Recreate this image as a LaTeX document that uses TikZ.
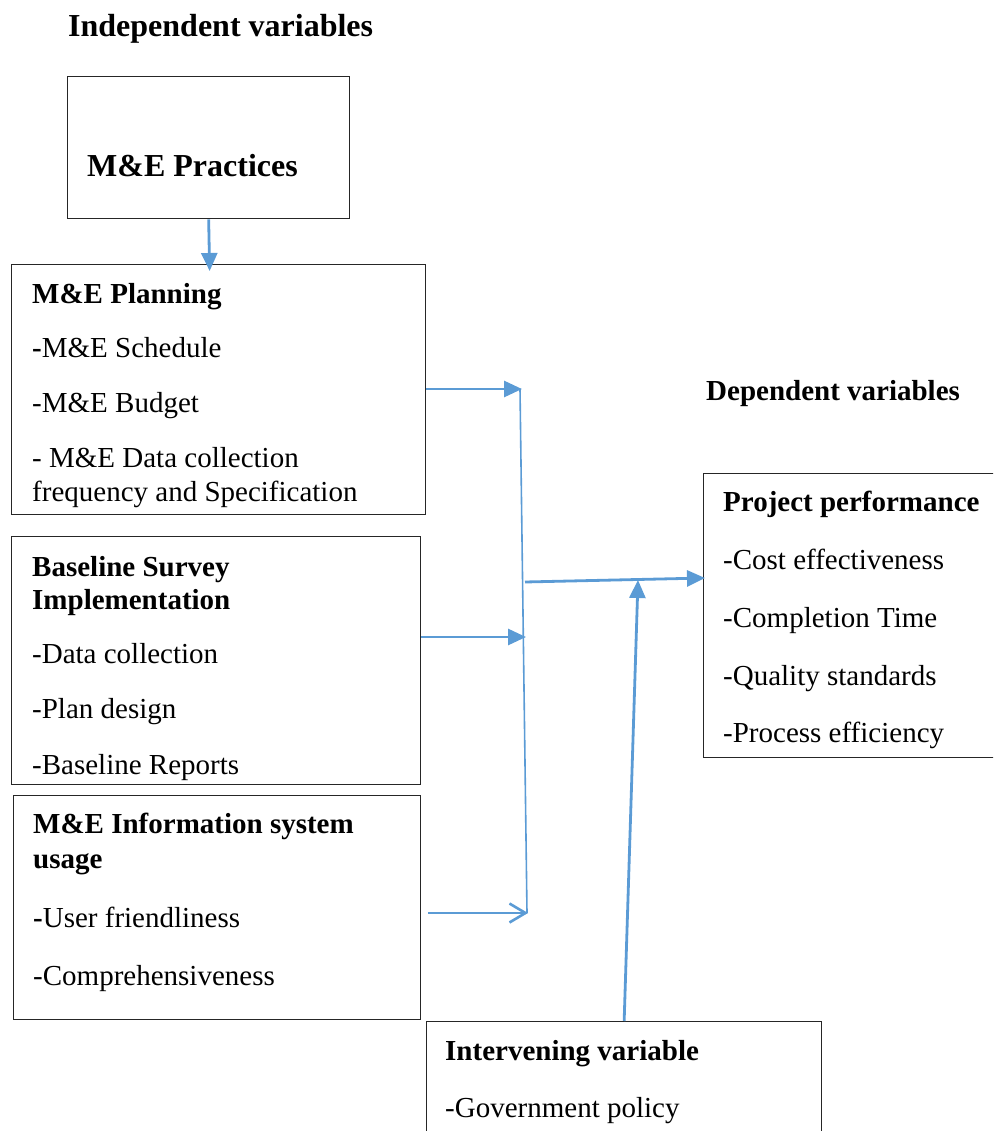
\documentclass[tikz,border=0pt]{standalone}
\usepackage{fontspec}
\setmainfont{Liberation Serif}
\usetikzlibrary{arrows.meta,calc}
\definecolor{linkblue}{RGB}{91,155,213}
\begin{document}
\begin{tikzpicture}[x=1pt,y=-1pt,
  box/.style={draw=black!85, line width=1.3pt, anchor=north west, inner sep=0pt},
  txt/.style={anchor=base west, inner sep=0pt, font=\fontsize{29}{34}\selectfont},
  head/.style={anchor=base west, inner sep=0pt, font=\fontsize{29}{34}\selectfont\bfseries},
  title/.style={anchor=base west, inner sep=0pt, font=\fontsize{32}{38}\selectfont\bfseries},
  link/.style={draw=linkblue, line width=2.8pt, -{Triangle[length=18pt,width=16pt]}},
  openlink/.style={draw=linkblue, line width=2.6pt, -{Straight Barb[length=16pt,width=19pt]}},
  spine/.style={draw=linkblue, line width=1.6pt}]
\clip (0,0) rectangle (993,1131);

% section headings
\node[title] (indep) at (68,37) {Independent variables};
\node[head] (dep) at (706,400) {Dependent variables};

% boxes
\node[box, minimum width=282pt, minimum height=142pt] (prac) at (67,76) {};
\node[box, minimum width=414pt, minimum height=250pt] (plan) at (11,264) {};
\node[box, minimum width=409pt, minimum height=248pt] (base) at (11,536) {};
\node[box, minimum width=407pt, minimum height=224pt] (info) at (13,795) {};
\node[box, minimum width=320pt, minimum height=284pt] (perf) at (703,473) {};
\node[box, minimum width=395pt, minimum height=150pt] (interv) at (426,1021) {};

% box contents
\node[title] (pracT) at (87,177) {M\&E Practices};

\node[head] (planT) at (32,303) {M\&E Planning};
\node[txt] (plan1) at (32,357) {\textbf{-}M\&E Schedule};
\node[txt] (plan2) at (32,412) {-M\&E Budget};
\node[txt] (plan3) at (32,467) {- M\&E Data collection};
\node[txt] (plan4) at (32,501) {frequency and Specification};

\node[head] (baseT) at (32,576) {Baseline Survey};
\node[head] (baseT2) at (32,609) {Implementation};
\node[txt] (base1) at (32,663) {-Data collection};
\node[txt] (base2) at (32,718) {-Plan design};
\node[txt] (base3) at (32,774) {-Baseline Reports};

\node[head] (infoT) at (33,833) {M\&E Information system};
\node[head] (infoT2) at (33,868) {usage};
\node[txt] (info1) at (33,927) {\textbf{-}User friendliness};
\node[txt] (info2) at (33,985) {-Comprehensiveness};

\node[head] (perfT) at (723,511) {Project performance};
\node[txt] (perf1) at (723,569) {-Cost effectiveness};
\node[txt] (perf2) at (723,627) {-Completion Time};
\node[txt] (perf3) at (723,685) {-Quality standards};
\node[txt] (perf4) at (723,742) {-Process efficiency};

\node[head] (intervT) at (445,1060) {Intervening variable};
\node[txt] (interv1) at (445,1117) {-Government policy};

% junction points of the connectors
\coordinate (jtop) at (522,389);
\coordinate (jmid) at (526,637);
\coordinate (jbot) at (528,913);
\coordinate (jout) at (525,582);
\coordinate (pin) at (705,578);
\coordinate (iin) at (638,580);

% connectors
\draw[link] (prac.south) -- ($(prac.south |- plan.north)+(1,7)$);
\draw[spine] (520,389) -- (527,913);
\draw[link] (plan.east |- jtop) -- (jtop);
\draw[link] (base.east |- jmid) -- (jmid);
\draw[openlink] ($(info.east |- jbot)+(7,0)$) -- (jbot);
\draw[link] (jout) -- (pin);
\draw[link] (interv.north) -- (iin);
\end{tikzpicture}
\end{document}
